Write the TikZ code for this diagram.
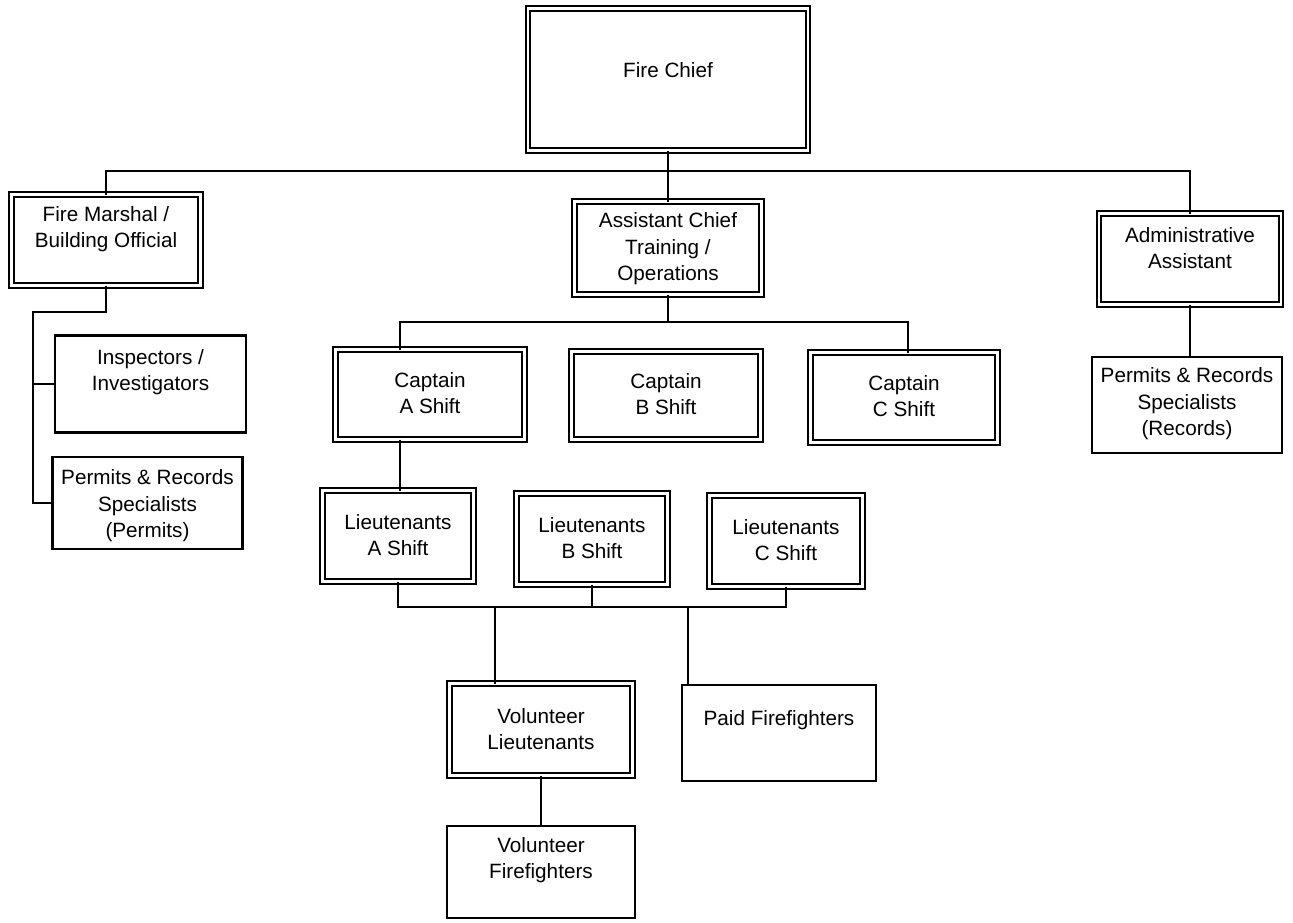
\documentclass[tikz,border=0pt]{standalone}
\usepackage{fontspec}
\setmainfont{Liberation Sans}
\begin{document}
\begin{tikzpicture}[x=1pt,y=-1pt,
  dbox/.style={draw, double, line width=1.9pt, double distance=2.4pt, inner sep=0pt, outer sep=0pt},
  sbox/.style={draw, line width=2.1pt, inner sep=0pt, outer sep=0pt},
  lbl/.style={align=center, font=\fontsize{20.7}{26.5}\selectfont, inner sep=0pt},
  wire/.style={line width=1.7pt}]
\useasboundingbox[fill=white] (0,0) rectangle (1293,922);

% ---- boxes ----
\node[dbox, minimum width=280pt, minimum height=142pt] (fc)   at (668,79.5) {};
\node[dbox, minimum width=189pt, minimum height=91pt]  (fm)   at (106,240) {};
\node[sbox, minimum width=191pt, minimum height=97pt]  (ins)  at (150.5,384) {};
\node[sbox, minimum width=190pt, minimum height=92pt]  (ppm)  at (147.5,503) {};
\node[dbox, minimum width=187pt, minimum height=93pt]  (ac)   at (668,248) {};
\node[dbox, minimum width=189pt, minimum height=90pt]  (capA) at (430,394.5) {};
\node[dbox, minimum width=189pt, minimum height=88pt]  (capB) at (666,395.5) {};
\node[dbox, minimum width=187pt, minimum height=90pt]  (capC) at (904,397.5) {};
\node[dbox, minimum width=151pt, minimum height=91pt]  (ltA)  at (398,536) {};
\node[dbox, minimum width=151pt, minimum height=91pt]  (ltB)  at (592,539) {};
\node[dbox, minimum width=153pt, minimum height=91pt]  (ltC)  at (786,541) {};
\node[dbox, minimum width=183pt, minimum height=92pt]  (vlt)  at (541,729.5) {};
\node[sbox, minimum width=194pt, minimum height=96pt]  (paid) at (779,733) {};
\node[sbox, minimum width=188pt, minimum height=92pt]  (vff)  at (541,872) {};
\node[dbox, minimum width=182pt, minimum height=91pt]  (aa)   at (1190,259) {};
\node[sbox, minimum width=190pt, minimum height=96pt]  (ppr)  at (1187,405) {};

% ---- labels ----
\node[lbl] (tfc)   at (668,70)    {Fire Chief};
\node[lbl] (tfm)   at (106,229)   {Fire Marshal /\\Building Official};
\node[lbl] (tins)  at (150.5,372) {Inspectors /\\Investigators};
\node[lbl] (tppm)  at (147.5,506) {Permits \& Records\\Specialists\\(Permits)};
\node[lbl] (tac)   at (668,249)   {Assistant Chief\\Training /\\Operations};
\node[lbl] (tcapA) at (430,393)   {Captain\\A Shift};
\node[lbl] (tcapB) at (666,394)   {Captain\\B Shift};
\node[lbl] (tcapC) at (904,396)   {Captain\\C Shift};
\node[lbl] (tltA)  at (398,535)   {Lieutenants\\A Shift};
\node[lbl] (tltB)  at (592,538)   {Lieutenants\\B Shift};
\node[lbl] (tltC)  at (786,540)   {Lieutenants\\C Shift};
\node[lbl] (tvlt)  at (541,729)   {Volunteer\\Lieutenants};
\node[lbl] (tpaid) at (779,720)   {Paid Firefighters};
\node[lbl] (tvff)  at (541,860)   {Volunteer\\Firefighters};
\node[lbl] (taa)   at (1190,248)  {Administrative\\Assistant};
\node[lbl] (tppr)  at (1187,404)  {Permits \& Records\\Specialists\\(Records)};

% ---- junction points ----
\coordinate (topbus) at (0,171);
\coordinate (fmL)    at (33,312);
\coordinate (cbusL)  at (400,322);
\coordinate (cbusR)  at (908,322);
\coordinate (lbus)   at (0,607);
\coordinate (vj)     at (495,607);
\coordinate (pj)     at (688,607);

% ---- connectors ----
% chief level
\draw[wire] (fm.north) -- (fm.north |- topbus) -- (aa.north |- topbus) -- (aa.north);
\draw[wire] (fc.south) -- (fc.south |- ac.north);
% fire marshal branch
\draw[wire] (fm.south) -- (fm.south |- fmL) -- (fmL) -- (fmL |- ppm.west) -- (ppm.west);
\draw[wire] (fmL |- ins.west) -- (ins.west);
% captains
\draw[wire] (ac.south) -- (ac.south |- cbusL);
\draw[wire] (cbusL |- capA.north) -- (cbusL) -- (cbusR) -- (cbusR |- capC.north);
\draw[wire] (cbusL |- capA.south) -- (cbusL |- ltA.north);
% lieutenants
\draw[wire] (ltA.south) -- (ltA.south |- lbus) -- (ltC.south |- lbus) -- (ltC.south);
\draw[wire] (ltB.south) -- (ltB.south |- lbus);
\draw[wire] (vj) -- (vj |- vlt.north);
\draw[wire] (pj) -- (pj |- paid.north);
\draw[wire] (vlt.south) -- (vff.north);
% administration
\draw[wire] (aa.south) -- (aa.south |- ppr.north);
\end{tikzpicture}
\end{document}
